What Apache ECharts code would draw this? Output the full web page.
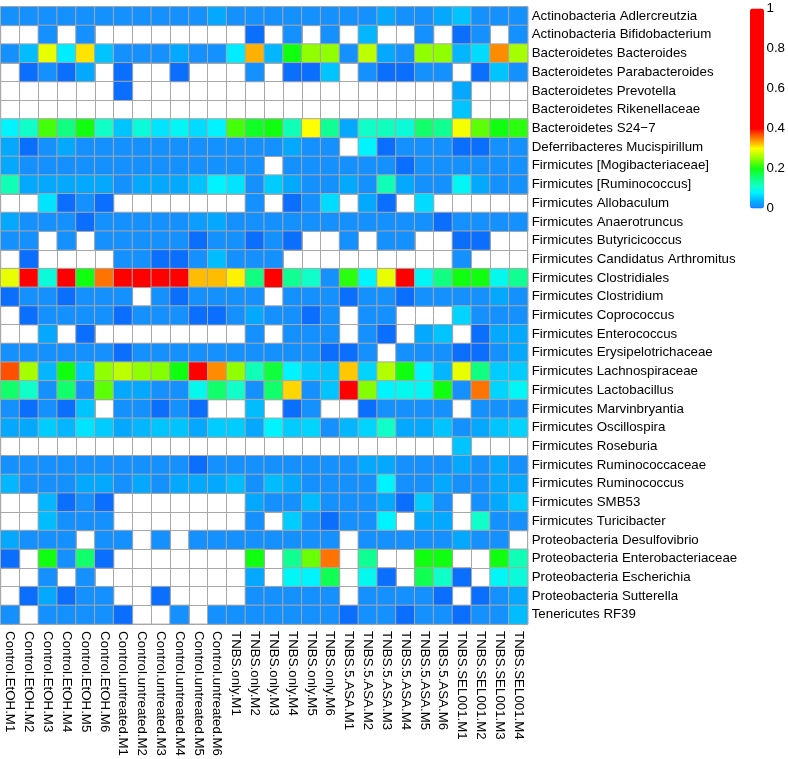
<!DOCTYPE html>
<html>
<head>
<meta charset="utf-8">
<script src="https://cdn.jsdelivr.net/npm/echarts@6/dist/echarts.min.js"></script>
<style>
html,body{margin:0;padding:0;background:#fff;}
#chart{width:788px;height:759px;}
</style>
</head>
<body>
<div id="chart"></div>
<script>
const samples = ["Control.EtOH.M1","Control.EtOH.M2","Control.EtOH.M3","Control.EtOH.M4","Control.EtOH.M5","Control.EtOH.M6",
"Control.untreated.M1","Control.untreated.M2","Control.untreated.M3","Control.untreated.M4","Control.untreated.M5","Control.untreated.M6",
"TNBS.only.M1","TNBS.only.M2","TNBS.only.M3","TNBS.only.M4","TNBS.only.M5","TNBS.only.M6",
"TNBS.5.ASA.M1","TNBS.5.ASA.M2","TNBS.5.ASA.M3","TNBS.5.ASA.M4","TNBS.5.ASA.M5","TNBS.5.ASA.M6",
"TNBS.SEL001.M1","TNBS.SEL001.M2","TNBS.SEL001.M3","TNBS.SEL001.M4"];

const taxa = ["Actinobacteria Adlercreutzia","Actinobacteria Bifidobacterium","Bacteroidetes Bacteroides","Bacteroidetes Parabacteroides",
"Bacteroidetes Prevotella","Bacteroidetes Rikenellaceae","Bacteroidetes S24\u22127","Deferribacteres Mucispirillum",
"Firmicutes [Mogibacteriaceae]","Firmicutes [Ruminococcus]","Firmicutes Allobaculum","Firmicutes Anaerotruncus",
"Firmicutes Butyricicoccus","Firmicutes Candidatus Arthromitus","Firmicutes Clostridiales","Firmicutes Clostridium",
"Firmicutes Coprococcus","Firmicutes Enterococcus","Firmicutes Erysipelotrichaceae","Firmicutes Lachnospiraceae",
"Firmicutes Lactobacillus","Firmicutes Marvinbryantia","Firmicutes Oscillospira","Firmicutes Roseburia",
"Firmicutes Ruminococcaceae","Firmicutes Ruminococcus","Firmicutes SMB53","Firmicutes Turicibacter",
"Proteobacteria Desulfovibrio","Proteobacteria Enterobacteriaceae","Proteobacteria Escherichia","Proteobacteria Sutterella",
"Tenericutes RF39"];

const N = null;
// relative abundance per taxon (row) and sample (column); null = not detected
const values = [
[.01,.01,.01,.01,.01,.01,.01,.01,.01,.01,.01,.03,.01,.01, .01,.01,.01,.01,.01,.01,.03,.01,.01,.03,.05,.01,.01,.01],
[N,N,.01,N,.01,N,N,N,N,N,N,N,N,0, N,.01,N,.01,N,.04,N,N,.01,N,0,.01,N,.01],
[.01,.045,.29,.075,.31,.05,.01,.01,.01,.03,.01,.01,.075,.33, .04,.2,.25,.25,.01,.27,.03,.01,.25,.25,.04,.065,.345,.26],
[N,0,.01,0,.03,N,0,N,N,0,N,N,N,.01, N,0,0,.05,N,.01,0,0,.01,.01,N,0,.05,.01],
[N,N,N,N,N,N,0,N,N,N,N,N,N,N, N,N,N,N,N,N,N,N,N,N,.03,N,N,N],
[N,N,N,N,N,N,N,N,N,N,N,N,N,N, N,N,N,N,N,N,N,N,N,N,.05,N,N,N],
[.08,.11,.22,.15,.2,.11,.05,.1,.07,.085,.065,.08,.22,.19, .2,.12,.3,.14,.03,.11,.115,.1,.16,.14,.295,.23,.2,.21],
[.03,0,.01,.03,.01,.01,.01,.01,.01,.01,.01,.01,.01,.01, .01,.03,.01,.01,N,.08,0,.01,.01,.01,0,0,.01,.01],
[.03,.01,.01,.01,.01,.01,.01,.01,.01,.01,.01,.01,.01,.01, N,.01,.01,.01,.01,.01,.01,0,.01,.01,.01,.01,.01,.01],
[.12,.03,.03,.03,.03,.03,.01,.03,.03,.03,.05,.08,.07,.01, .055,.03,.01,.01,.03,.01,.12,.03,.01,.01,.085,.03,.01,.01],
[N,N,.07,0,.01,0,N,N,N,N,N,N,N,.01, N,0,.01,.065,N,.03,0,N,.065,N,N,N,N,N],
[.03,.01,.01,.01,0,.01,.01,.01,.01,.01,.02,.03,.01,.01, .01,.01,.01,.01,.01,.01,.01,.01,.01,0,.01,.01,.01,.01],
[.01,.01,N,.01,N,.01,.01,.01,.01,.01,0,.01,.01,0, .01,0,N,N,.01,N,.01,.01,N,N,0,0,N,N],
[N,0,N,N,N,N,.01,.01,0,0,.01,.045,.01,.01, .01,N,N,N,N,N,N,N,N,N,.01,N,N,N],
[.29,.55,.1,.6,.2,.355,.48,.52,.5,.55,.325,.325,.305,.15, .45,.14,.11,.01,.21,.08,.29,.5,.085,.15,.2,.2,.09,.14],
[0,.01,.01,0,.01,.01,.01,N,.01,0,.01,.01,.01,.01, N,.01,.01,.01,0,.01,.01,0,.01,.01,.01,.01,.03,.01],
[N,0,.01,.01,.01,.01,0,.01,.01,.01,0,0,.01,.03, .01,.01,0,.01,N,.01,.01,N,N,N,.06,.01,.01,.01],
[N,N,.03,N,0,N,N,N,N,N,N,N,N,.01, N,.01,.01,.01,N,.01,0,N,.03,.05,N,0,.03,.03],
[.01,.01,.01,.01,.01,.01,0,.01,.01,.01,.01,.01,.01,.01, .01,.01,.01,0,0,.01,N,.01,.01,.01,0,0,.01,.03],
[.37,.26,.04,.2,.05,.25,.27,.25,.245,.2,.45,.345,.25,.12, .18,.08,.055,.05,.32,.06,.265,.2,.08,.04,.29,.15,.055,.055],
[.16,.11,.01,.16,.01,.23,.03,.03,.01,.01,.09,.16,.11,.01, .16,.315,.01,.05,.5,.245,.08,.09,.085,.2,.01,.355,.06,.085],
[.01,0,.01,0,.05,N,.01,.01,0,.01,0,N,N,.045, N,0,.01,N,N,0,.01,.01,.01,.01,N,.01,.01,.01],
[.03,.03,.055,.04,.07,.055,.03,.04,.05,.05,.03,.055,.055,.03, .08,.055,.06,.01,.04,.06,.11,.03,.03,.05,.01,.03,.05,.06],
[N,N,N,N,N,N,N,N,N,N,N,N,N,N, N,N,N,N,N,N,N,N,N,N,.05,N,N,N],
[.01,.01,.01,.01,.01,.01,.01,.01,.01,.01,0,.01,.01,.01, .01,.01,.01,.01,.01,.03,.03,.01,.01,.01,.03,.01,.03,.01],
[.04,.01,.01,.01,.03,.03,.01,.03,.01,.03,.03,.03,.045,.01, .045,.03,.01,.01,.01,.01,.08,.01,.01,.03,.01,.01,.03,.03],
[N,N,.04,0,.01,0,N,N,N,N,N,N,N,.03, .01,.01,.045,.01,.01,.01,.03,0,.055,.01,N,.01,.03,.055],
[N,N,.045,.01,.01,.01,N,N,N,N,N,N,N,.01, N,.055,.01,0,.01,.01,.08,N,.03,.03,N,.11,.01,.01],
[.03,.01,.01,.01,N,.01,.01,N,.01,N,.01,.01,.01,.01, .01,.01,.01,.01,N,.01,.01,.01,.01,.01,.03,.01,.01,N],
[0,N,.2,.01,.16,0,N,N,N,N,N,N,N,.2, N,.14,.235,.355,N,.14,N,N,.2,.2,N,N,.2,.12],
[N,N,.01,N,.01,N,N,N,N,N,N,N,N,.03, N,.085,.08,.17,N,.09,0,N,.17,.11,0,N,.085,.1],
[N,0,.03,0,.01,.01,N,N,0,N,N,N,N,.01, .01,.01,.01,.01,N,.01,.01,.01,.01,0,N,0,.01,.03],
[.01,N,.01,.01,.01,.01,0,N,N,.01,N,.01,.01,.01, .01,.01,.01,.01,0,.01,.01,0,.01,.01,0,.01,.01,.045]
];

const colorbarTicks = [0, 0.2, 0.4, 0.6, 0.8, 1];

// colour ramp (style)
const stops = [[0,'#0a6eff'],[0.01,'#1590ff'],[0.03,'#05a8ff'],[0.05,'#00c4ff'],[0.08,'#00f4ff'],[0.11,'#10ffc8'],
[0.15,'#10ff80'],[0.2,'#10ff10'],[0.25,'#90ff00'],[0.29,'#e8ff00'],[0.3,'#ffff00'],[0.32,'#ffc800'],
[0.35,'#ff8000'],[0.37,'#ff5000'],[0.4,'#ff0000'],[1,'#ff0000']];
function hex(c){return [parseInt(c.slice(1,3),16),parseInt(c.slice(3,5),16),parseInt(c.slice(5,7),16)];}
function ramp(v){
  for(let i=0;i<stops.length-1;i++){
    const a=stops[i],b=stops[i+1];
    if(v>=a[0]&&v<=b[0]){
      const t=(v-a[0])/(b[0]-a[0]);const ca=hex(a[1]),cb=hex(b[1]);
      return 'rgb('+ca.map((x,k)=>Math.round(x+(cb[k]-x)*t)).join(',')+')';
    }
  }
  return stops[stops.length-1][1];
}
const palette=[];
for(let i=0;i<=400;i++){palette.push(ramp(i/400));}

const data=[];
values.forEach((row,i)=>row.forEach((v,j)=>{ if(v!==null) data.push([j,i,v]); }));

const font='"Liberation Sans", Arial, sans-serif';
const gridColor='#a8a8a8';
const chart=echarts.init(document.getElementById('chart'),null,{renderer:'canvas'});
chart.setOption({
  animation:false,
  backgroundColor:'#fff',
  grid:[
    {left:0.7,top:6.7,width:527,height:619.4,show:true,borderColor:gridColor,borderWidth:1,containLabel:false},
    {left:750,top:8.5,width:14,height:200,show:false}
  ],
  xAxis:[
    {type:'category',gridIndex:0,data:samples,position:'bottom',
     axisLine:{show:false},axisTick:{show:false},
     splitLine:{show:true,interval:0,lineStyle:{color:gridColor,width:1}},
     axisLabel:{interval:0,rotate:-90,margin:7,fontSize:13.3,fontFamily:font,color:'#000'}},
    {type:'value',gridIndex:1,show:false,min:0,max:1}
  ],
  yAxis:[
    {type:'category',gridIndex:0,data:taxa,inverse:true,position:'right',
     axisLine:{show:false},axisTick:{show:false},
     splitLine:{show:true,interval:0,lineStyle:{color:gridColor,width:1}},
     axisLabel:{interval:0,margin:4,fontSize:13.3,fontFamily:font,color:'#000'}},
    {type:'value',gridIndex:1,position:'right',min:0,max:1,interval:0.2,
     axisLine:{show:false},axisTick:{show:false},splitLine:{show:false},
     axisLabel:{margin:8,fontSize:13.3,fontFamily:font,color:'#000',
       customValues:colorbarTicks}}
  ],
  visualMap:{type:'continuous',min:0,max:1,seriesIndex:0,calculable:false,
    orient:'vertical',left:750,top:8.5,itemWidth:14,itemHeight:200,padding:0,
    text:null,inRange:{color:palette},hoverLink:false},
  series:[
    {type:'heatmap',xAxisIndex:0,yAxisIndex:0,data:data,
     itemStyle:{borderColor:gridColor,borderWidth:1},emphasis:{disabled:true}},
    {type:'line',xAxisIndex:1,yAxisIndex:1,data:[],silent:true}
  ]
});
</script>
</body>
</html>
